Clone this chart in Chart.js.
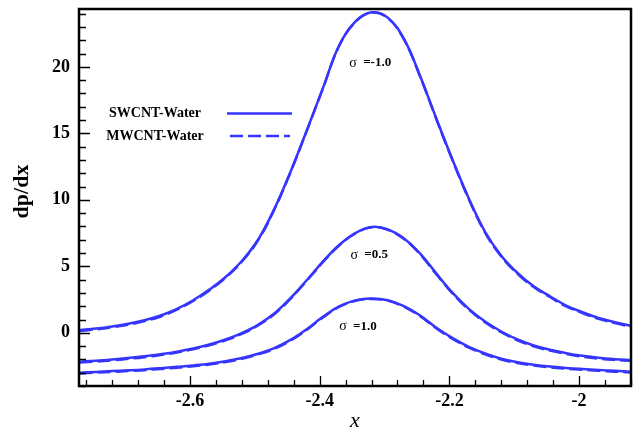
<!DOCTYPE html>
<html>
<head>
<meta charset="utf-8">
<script src="https://cdn.jsdelivr.net/npm/chart.js@4.4.0/dist/chart.umd.min.js"></script>
<style>
  html, body { margin: 0; padding: 0; background: #fff; }
  #wrap { width: 634px; height: 432px; }
</style>
</head>
<body>
<div id="wrap"><canvas id="chart"></canvas></div>
<script>
// x positions shared by every curve
const xValues = [-2.77, -2.745, -2.72, -2.695, -2.67, -2.645, -2.62, -2.595, -2.57, -2.545,
  -2.52, -2.495, -2.47, -2.445, -2.42, -2.395, -2.37, -2.345, -2.32, -2.295,
  -2.27, -2.245, -2.22, -2.195, -2.17, -2.145, -2.12, -2.095, -2.07, -2.045,
  -2.02, -1.995, -1.97, -1.945, -1.92];

// SWCNT-Water (solid)
const swSigmaM1 = [0.2, 0.32, 0.48, 0.68, 0.95, 1.3, 1.8, 2.45, 3.25, 4.2,
  5.4, 7.0, 9.3, 12.1, 15.2, 18.4, 21.6, 23.4, 24.1, 23.7,
  22.1, 19.3, 16.1, 13.0, 10.1, 7.6, 5.8, 4.5, 3.5, 2.75,
  2.05, 1.55, 1.12, 0.8, 0.52];
const swSigma05 = [-2.17, -2.1, -2.01, -1.9, -1.77, -1.61, -1.42, -1.18, -0.88, -0.5,
  -0.02, 0.6, 1.45, 2.6, 3.95, 5.35, 6.6, 7.5, 7.96, 7.78,
  7.1, 5.95, 4.45, 3.0, 1.8, 0.85, 0.1, -0.5, -0.95, -1.28,
  -1.53, -1.73, -1.88, -1.98, -2.05];
const swSigma1 = [-3.0, -2.94, -2.88, -2.82, -2.75, -2.66, -2.56, -2.45, -2.32, -2.14,
  -1.9, -1.57, -1.15, -0.53, 0.27, 1.2, 1.98, 2.44, 2.58, 2.45,
  2.0, 1.3, 0.38, -0.4, -1.05, -1.55, -1.95, -2.21, -2.4, -2.54,
  -2.64, -2.72, -2.79, -2.86, -2.93];

// MWCNT-Water (dashed)
const mwSigmaM1 = [0.13, 0.25, 0.41, 0.61, 0.88, 1.23, 1.74, 2.39, 3.19, 4.14,
  5.34, 6.95, 9.25, 12.06, 15.17, 18.37, 21.57, 23.37, 24.07, 23.67,
  22.06, 19.25, 16.05, 12.95, 10.04, 7.54, 5.74, 4.44, 3.44, 2.69,
  1.99, 1.49, 1.05, 0.73, 0.45];
const mwSigma05 = [-2.23, -2.16, -2.07, -1.96, -1.83, -1.67, -1.48, -1.24, -0.94, -0.56,
  -0.08, 0.55, 1.4, 2.55, 3.91, 5.31, 6.56, 7.47, 7.93, 7.75,
  7.06, 5.9, 4.4, 2.95, 1.74, 0.79, 0.04, -0.56, -1.01, -1.34,
  -1.59, -1.79, -1.94, -2.04, -2.11];
const mwSigma1 = [-3.06, -3.0, -2.94, -2.88, -2.81, -2.72, -2.62, -2.51, -2.38, -2.2,
  -1.96, -1.63, -1.21, -0.59, 0.22, 1.15, 1.94, 2.41, 2.55, 2.42,
  1.96, 1.25, 0.33, -0.46, -1.11, -1.61, -2.01, -2.27, -2.46, -2.6,
  -2.7, -2.78, -2.85, -2.92, -2.99];

const xTicks = [-2.6, -2.4, -2.2, -2];
const yTicks = [0, 5, 10, 15, 20];
const legendNames = ['SWCNT-Water', 'MWCNT-Water'];
const sigmaLabels = ['-1.0', '0.5', '1.0'];
const yTitle = 'dp/dx';

const serif = '"Liberation Serif", "DejaVu Serif", serif';
const blue = '#3535ff';

const toPoints = ys => ys.map((y, i) => ({ x: xValues[i], y: y }));

function curve(ys, dashed) {
  return {
    data: toPoints(ys),
    borderColor: blue,
    borderWidth: 2.5,
    borderDash: dashed ? [13, 5] : [],
    pointRadius: 0,
    fill: false,
    tension: 0.4
  };
}

// frame plus inward tick marks on the left and bottom axes
const frame = {
  id: 'frame',
  afterDraw(chart) {
    const { ctx, chartArea: a, scales: { x, y } } = chart;
    ctx.save();
    ctx.strokeStyle = '#000';
    ctx.lineWidth = 1.3;
    ctx.beginPath();
    for (let v = Math.ceil(y.min); v <= y.max; v += 1) {
      const py = Math.round(y.getPixelForValue(v)) + 0.5;
      const len = v % 5 === 0 ? 11 : 7;
      ctx.moveTo(a.left, py);
      ctx.lineTo(a.left + len, py);
    }
    for (let n = -5; n <= 17; n++) {
      const v = -2.6 + n * 0.04;
      if (v < x.min || v > x.max) continue;
      const px = Math.round(x.getPixelForValue(v)) + 0.5;
      const len = n % 5 === 0 ? 10 : 6;
      ctx.moveTo(px, a.bottom);
      ctx.lineTo(px, a.bottom - len);
    }
    ctx.stroke();
    ctx.lineWidth = 2.5;
    ctx.strokeRect(a.left, a.top, a.right - a.left, a.bottom - a.top);
    ctx.restore();
  }
};

// y title, in-plot legend and sigma labels
const notes = {
  id: 'notes',
  afterDatasetsDraw(chart) {
    const { ctx, chartArea: a, scales: { x, y } } = chart;
    ctx.save();
    ctx.fillStyle = '#000';
    ctx.textBaseline = 'middle';
    ctx.textAlign = 'center';

    ctx.save();
    ctx.translate(22, (a.top + a.bottom) / 2 - 6);
    ctx.rotate(-Math.PI / 2);
    ctx.font = 'bold 22px ' + serif;
    ctx.fillText(yTitle, 0, 0);
    ctx.restore();

    ctx.font = 'bold 14px ' + serif;
    const rows = [
      { label: legendNames[0], ds: chart.data.datasets[0], yv: 16.5, x0: 227, x1: 292 },
      { label: legendNames[1], ds: chart.data.datasets[1], yv: 14.8, x0: 230, x1: 290 }
    ];
    rows.forEach(r => {
      const py = y.getPixelForValue(r.yv);
      ctx.fillText(r.label, 155, py);
      ctx.beginPath();
      ctx.strokeStyle = r.ds.borderColor;
      ctx.lineWidth = r.ds.borderWidth;
      ctx.setLineDash(r.ds.borderDash);
      ctx.moveTo(r.x0, py);
      ctx.lineTo(r.x1, py);
      ctx.stroke();
    });
    ctx.setLineDash([]);

    const spots = [[-2.322, 20.3], [-2.3236, 5.85], [-2.341, 0.5]];
    spots.forEach((s, i) => {
      const cx = x.getPixelForValue(s[0]);
      const cy = y.getPixelForValue(s[1]);
      ctx.font = '14px ' + serif;
      const wSig = ctx.measureText('σ').width;
      ctx.font = 'bold 13px ' + serif;
      const rest = ' =' + sigmaLabels[i];
      const wRest = ctx.measureText(rest).width;
      const gap = 3;
      const left = cx - (wSig + gap + wRest) / 2;
      ctx.textAlign = 'left';
      ctx.font = '14px ' + serif;
      ctx.fillText('σ', left, cy);
      ctx.font = 'bold 13px ' + serif;
      ctx.fillText(rest, left + wSig + gap, cy);
    });
    ctx.restore();
  }
};

new Chart(document.getElementById('chart'), {
  type: 'line',
  data: {
    datasets: [
      curve(swSigmaM1, false),
      curve(mwSigmaM1, true),
      curve(swSigma05, false),
      curve(mwSigma05, true),
      curve(swSigma1, false),
      curve(mwSigma1, true)
    ]
  },
  options: {
    responsive: true,
    maintainAspectRatio: false,
    animation: false,
    layout: { padding: { left: 0, right: 3, top: 9, bottom: 0 } },
    plugins: { legend: { display: false }, tooltip: { enabled: false } },
    scales: {
      x: {
        type: 'linear',
        min: -2.771,
        max: -1.92,
        afterBuildTicks: s => { s.ticks = xTicks.map(v => ({ value: v })); },
        afterFit: s => { s.height = 46; s.paddingLeft = 0; s.paddingRight = 0; },
        grid: { display: false, drawTicks: false },
        border: { display: false },
        ticks: {
          color: '#000',
          padding: 5,
          maxRotation: 0,
          font: { family: serif, size: 18, weight: 'bold' },
          callback: v => String(v)
        },
        title: {
          display: true,
          text: 'x',
          color: '#000',
          font: { family: serif, size: 22, style: 'italic' },
          padding: { top: 0, bottom: -2 }
        }
      },
      y: {
        min: -4,
        max: 24.35,
        afterBuildTicks: s => { s.ticks = yTicks.map(v => ({ value: v })); },
        afterFit: s => { s.width = 79; s.paddingTop = 0; s.paddingBottom = 0; },
        grid: { display: false, drawTicks: false },
        border: { display: false },
        ticks: {
          color: '#000',
          padding: 9,
          font: { family: serif, size: 18, weight: 'bold' },
          callback: v => String(v)
        },
        title: { display: false }
      }
    }
  },
  plugins: [frame, notes]
});
</script>
</body>
</html>
